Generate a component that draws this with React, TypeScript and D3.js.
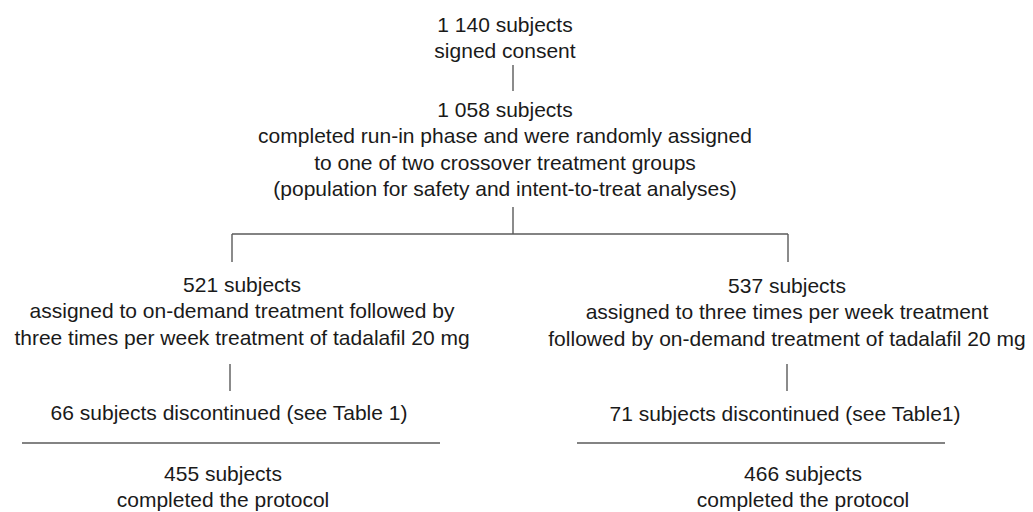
import { useEffect, useRef } from 'react'
import * as d3 from 'd3'

// Flow of subjects through the study
const enrolled = ['1 140 subjects', 'signed consent']
const randomized = [
  '1 058 subjects',
  'completed run-in phase and were randomly assigned',
  'to one of two crossover treatment groups',
  '(population for safety and intent-to-treat analyses)',
]
const armA = [
  '521 subjects',
  'assigned to on-demand treatment followed by',
  'three times per week treatment of tadalafil 20 mg',
]
const armB = [
  '537 subjects',
  'assigned to three times per week treatment',
  'followed by on-demand treatment of tadalafil 20 mg',
]
const discontinued = ['66 subjects discontinued (see Table 1)', '71 subjects discontinued (see Table1)']
const completedA = ['455 subjects', 'completed the protocol']
const completedB = ['466 subjects', 'completed the protocol']

export default function App() {
  const svgRef = useRef<SVGSVGElement>(null)

  useEffect(() => {
    if (!svgRef.current) return
    document.body.style.margin = '0'
    const width = 1033
    const height = 512

    const svg = d3.select(svgRef.current)
    svg.selectAll('*').remove()
    svg.attr('width', width).attr('height', height)

    // line index -> baseline offset inside a text block
    const lineStep = d3.scaleLinear().domain([0, 1]).range([0, 26.4])

    const block = (lines: string[], cx: number, top: number) => {
      const g = svg.append('g').attr('transform', `translate(${cx},${top})`)
      g.selectAll('text')
        .data(lines)
        .join('text')
        .attr('x', 0)
        .attr('y', (_, i) => lineStep(i))
        .attr('text-anchor', 'middle')
        .attr('font-family', 'Liberation Sans, Arial, sans-serif')
        .attr('font-size', 21)
        .attr('fill', '#1a1a1a')
        .text(d => d)
    }

    const seg = (x1: number, y1: number, x2: number, y2: number) => {
      svg.append('line')
        .attr('x1', x1).attr('y1', y1).attr('x2', x2).attr('y2', y2)
        .attr('stroke', '#5a5a5a')
        .attr('stroke-width', 1.4)
    }

    const cx = 513
    const leftX = 232
    const rightX = 788
    const branchY = 234

    block(enrolled, 505, 32)
    seg(cx, 65, cx, 91)
    block(randomized, 505, 117)
    seg(cx, 207, cx, branchY)
    seg(leftX, branchY, rightX, branchY)
    seg(leftX, branchY, leftX, 262)
    seg(rightX, branchY, rightX, 262)

    block(armA, 242, 292)
    block(armB, 787, 293)

    seg(230, 364, 230, 391)
    seg(787, 364, 787, 391)

    block([discontinued[0]], 229, 420)
    block([discontinued[1]], 785, 421)

    seg(22, 443, 440, 443)
    seg(577, 443, 945, 443)

    block(completedA, 223, 481)
    block(completedB, 803, 481)
  }, [])

  return <svg ref={svgRef} style={{ display: 'block', background: '#fff' }} />
}
